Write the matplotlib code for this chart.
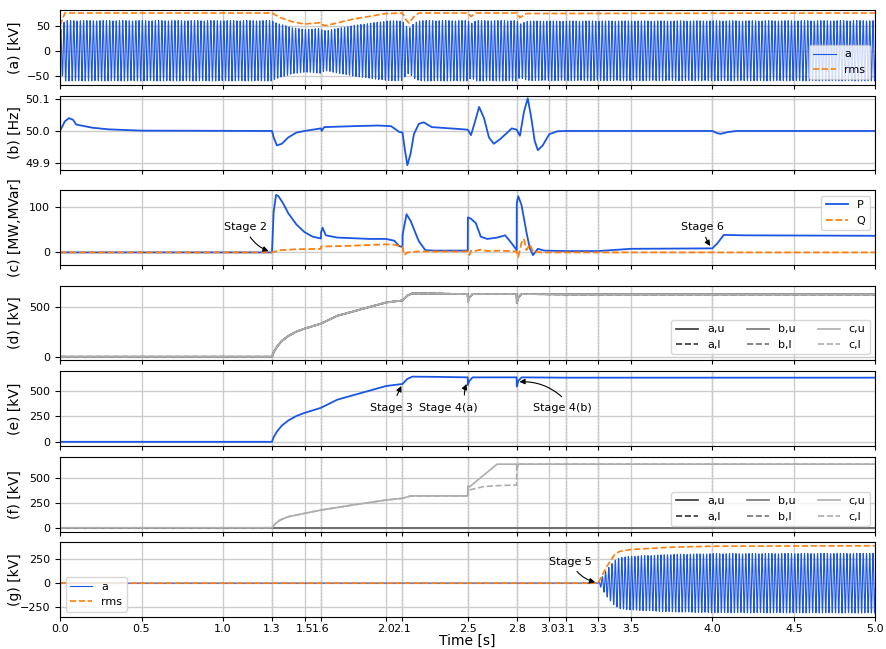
import numpy as np
import matplotlib
matplotlib.use("Agg")
from matplotlib import pyplot as plt

# ---- data ----
# (a) grid voltage rms envelope [kV]
t_rms_a = [0, 0.03, 1.3, 1.35, 1.42, 1.5, 1.6, 1.605, 1.63, 1.8, 2.0, 2.1, 2.12, 2.14, 2.17, 2.2, 2.5, 2.52, 2.55, 2.8, 2.82, 2.86, 5.0]
rms_a = [50, 75, 75, 66, 58, 53, 56, 52, 50, 63, 74, 75, 62, 55, 68, 75, 75, 68, 75, 75, 66, 74, 75]
peak_ratio = 0.8

# (b) frequency [Hz]
t_freq = [0, 0.03, 0.055, 0.08, 0.1, 0.2, 0.3, 0.5, 1.3, 1.31, 1.33, 1.36, 1.4, 1.45, 1.5,
          1.6, 1.605, 1.62, 1.8, 1.95, 2.03, 2.08, 2.1, 2.115, 2.13, 2.15, 2.17, 2.2, 2.23,
          2.28, 2.45, 2.5, 2.52, 2.545, 2.57, 2.6, 2.63, 2.66, 2.7, 2.77, 2.8, 2.82, 2.845,
          2.868, 2.89, 2.91, 2.93, 2.96, 3.0, 3.05, 3.1, 4.0, 4.03, 4.05, 4.1, 4.15, 5.0]
freq = [50.0, 50.03, 50.04, 50.035, 50.02, 50.01, 50.005, 50.001, 50.0, 49.98, 49.955, 49.96, 49.98, 49.995, 50.0,
        50.008, 50.0, 50.012, 50.015, 50.017, 50.015, 49.997, 49.995, 49.94, 49.893, 49.93, 49.99, 50.022, 50.027,
        50.012, 50.006, 50.004, 49.987, 50.03, 50.075, 50.04, 49.98, 49.96, 49.975, 50.008, 50.004, 49.985, 50.06,
        50.102, 50.04, 49.97, 49.94, 49.955, 49.99, 49.999, 50.0, 50.0, 49.993, 49.991, 49.997, 50.0, 50.0]

# (c) active / reactive power
t_p = [0, 1.3, 1.31, 1.325, 1.34, 1.37, 1.4, 1.45, 1.5, 1.55, 1.6, 1.601, 1.61, 1.63, 1.7, 1.9, 2.0,
       2.05, 2.08, 2.1, 2.101, 2.125, 2.15, 2.2, 2.24, 2.3, 2.5, 2.501, 2.52, 2.55, 2.58, 2.62, 2.68,
       2.73, 2.77, 2.8, 2.801, 2.81, 2.83, 2.86, 2.88, 2.9, 2.93, 2.97, 3.1, 3.3, 3.5, 4.0, 4.03,
       4.07, 4.2, 5.0]
p_mw = [0, 0, 90, 128, 125, 108, 87, 62, 45, 35, 31, 45, 55, 38, 33, 30, 30,
        26, 14, 12, 40, 85, 70, 25, 5, 4, 4, 78, 75, 65, 35, 30, 33,
        38, 20, 5, 110, 125, 105, 45, 10, -6, 8, 4, 3, 3, 8, 9, 20,
        39, 38, 37]
t_q = [0, 1.3, 1.35, 1.45, 1.6, 1.601, 1.8, 2.0, 2.05, 2.1, 2.11, 2.13, 2.2, 2.5, 2.51, 2.52, 2.54,
       2.58, 2.62, 2.7, 2.8, 2.81, 2.83, 2.845, 2.86, 2.88, 2.9, 2.95, 5.0]
q_mvar = [0, 0, 5, 7, 8, 13, 15, 18, 17, 12, -6, 0, 2, 2, -6, 4, 3,
          6, 3, 4, 2, -10, 22, 30, 5, 18, 2, 0, 0]

# (d),(e) DC voltage [kV]
t_dc = [0, 1.3, 1.31, 1.33, 1.36, 1.4, 1.45, 1.5, 1.6, 1.7, 1.8, 1.9, 2.0, 2.1, 2.13, 2.16, 2.3,
        2.5, 2.501, 2.51, 2.53, 2.8, 2.801, 2.81, 2.83, 3.1, 5.0]
v_dc = [0, 0, 45, 100, 160, 210, 255, 285, 335, 415, 460, 505, 550, 570, 620, 642, 640,
        635, 560, 600, 635, 635, 545, 600, 635, 632, 632]

# (f) capacitor voltages phase c [kV]
t_cu = [0, 1.3, 1.32, 1.35, 1.4, 1.5, 1.6, 1.8, 2.0, 2.1, 2.15, 2.5, 2.501, 2.51, 2.68, 2.8, 2.801, 2.81, 2.83, 5.0]
v_cu = [0, 0, 40, 78, 111, 145, 178, 230, 279, 296, 320, 320, 420, 410, 640, 640, 580, 640, 640, 640]
t_cl = [0, 1.3, 1.32, 1.35, 1.4, 1.5, 1.6, 1.8, 2.0, 2.1, 2.15, 2.5, 2.501, 2.51, 2.6, 2.7, 2.8, 2.801, 5.0]
v_cl = [0, 0, 40, 78, 111, 145, 178, 230, 279, 296, 320, 320, 400, 380, 415, 425, 430, 640, 640]
t_ab = [0, 5.0]
v_ab = [0, 0]

# (g) converter ac voltage rms envelope [kV]
t_rms_g = [0, 3.3, 3.35, 3.4, 3.43, 3.5, 3.75, 4.0, 5.0]
rms_g = [0, 0, 170, 300, 335, 355, 380, 390, 395]

xticks = [0.0, 0.5, 1.0, 1.3, 1.5, 1.6, 2.0, 2.1, 2.5, 2.8, 3.0, 3.1, 3.3, 3.5, 4.0, 4.5, 5.0]
events = [1.3, 1.6, 2.1, 2.5, 2.8, 3.1, 3.3, 4.0]

blue = '#1a55e3'
orange = '#ff7f0e'
grays = ['0.2', '0.45', '0.68']

plt.rcParams['font.size'] = 8

fig = plt.figure(figsize=(8.87, 6.49), dpi=100)
left, width = 0.0676, 0.9194
rows = [(0.869, 0.1156), (0.738, 0.1145), (0.5917, 0.1156), (0.4453, 0.1145),
        (0.3133, 0.1151), (0.1807, 0.1156), (0.0489, 0.1156)]
axes = []
for i, (b, h) in enumerate(rows):
    ax = fig.add_axes([left, b, width, h], sharex=axes[0] if axes else None)
    axes.append(ax)

t = np.arange(0, 5.0, 0.0011)
carrier = np.sin(2 * np.pi * 50 * t)

# (a)
ax = axes[0]
env_a = np.interp(t, t_rms_a, rms_a) * peak_ratio
ax.plot(t, env_a * carrier, color=blue, lw=0.8, label='a')
ax.plot(t_rms_a, rms_a, color=orange, ls='--', lw=1.2, label='rms')
ax.set_ylim(-68, 81)
ax.set_yticks([-50, 0, 50])
ax.set_ylabel('(a) [kV]', fontsize=10)
ax.legend(loc='lower right')

# (b)
ax = axes[1]
ax.plot(t_freq, freq, color=blue, lw=1.3)
ax.set_ylim(49.878, 50.11)
ax.set_yticks([49.9, 50.0, 50.1])
ax.set_ylabel('(b) [Hz]', fontsize=10)

# (c)
ax = axes[2]
ax.plot(t_p, p_mw, color=blue, lw=1.3, label='P')
ax.plot(t_q, q_mvar, color=orange, ls='--', lw=1.3, label='Q')
ax.set_ylim(-28, 139)
ax.set_yticks([0, 100])
ax.set_ylabel('(c) [MW,MVar]', fontsize=10)
ax.legend(loc='upper right')
ax.annotate('Stage 2', xy=(1.295, 1), xytext=(1.135, 57), ha='center', va='center',
            arrowprops=dict(arrowstyle='-|>', color='k', lw=0.8, connectionstyle='arc3,rad=0.25'))
ax.annotate('Stage 6', xy=(3.995, 9), xytext=(3.94, 57), ha='center', va='center',
            arrowprops=dict(arrowstyle='-|>', color='k', lw=0.8, connectionstyle='arc3,rad=0.1'))

# (d)
ax = axes[3]
for ph, c in zip(['a', 'b', 'c'], grays):
    ax.plot(t_dc, v_dc, color=c, lw=1.2, label=ph + ',u')
    ax.plot(t_dc, v_dc, color=c, lw=1.2, ls='--', label=ph + ',l')
ax.set_ylim(-33, 720)
ax.set_yticks([0, 500])
ax.set_ylabel('(d) [kV]', fontsize=10)
ax.legend(loc='lower right', ncol=3)

# (e)
ax = axes[4]
ax.plot(t_dc, v_dc, color=blue, lw=1.3)
ax.set_ylim(-38, 698)
ax.set_yticks([0, 250, 500])
ax.set_ylabel('(e) [kV]', fontsize=10)
ax.annotate('Stage 3', xy=(2.1, 575), xytext=(2.03, 330), ha='center', va='center',
            arrowprops=dict(arrowstyle='-|>', color='k', lw=0.8, connectionstyle='arc3,rad=0.0',
                            shrinkA=4))
ax.annotate('Stage 4(a)', xy=(2.5, 595), xytext=(2.38, 330), ha='center', va='center',
            arrowprops=dict(arrowstyle='-|>', color='k', lw=0.8, connectionstyle='arc3,rad=-0.2',
                            shrinkA=4, relpos=(0.8, 1.0)))
ax.annotate('Stage 4(b)', xy=(2.8, 590), xytext=(3.08, 330), ha='center', va='center',
            arrowprops=dict(arrowstyle='-|>', color='k', lw=0.8, connectionstyle='arc3,rad=0.25',
                            shrinkA=4, relpos=(0.6, 1.0)))

# (f)
ax = axes[5]
ax.plot(t_ab, v_ab, color=grays[0], lw=1.2, label='a,u')
ax.plot(t_ab, v_ab, color=grays[0], lw=1.2, ls='--', label='a,l')
ax.plot(t_ab, v_ab, color=grays[1], lw=1.2, label='b,u')
ax.plot(t_ab, v_ab, color=grays[1], lw=1.2, ls='--', label='b,l')
ax.plot(t_cu, v_cu, color=grays[2], lw=1.2, label='c,u')
ax.plot(t_cl, v_cl, color=grays[2], lw=1.2, ls='--', label='c,l')
ax.set_ylim(-40, 715)
ax.set_yticks([0, 250, 500])
ax.set_ylabel('(f) [kV]', fontsize=10)
ax.legend(loc='lower right', ncol=3)

# (g)
ax = axes[6]
env_g = np.interp(t, t_rms_g, rms_g) * peak_ratio
ax.plot(t, env_g * carrier, color=blue, lw=0.8, label='a')
ax.plot(t_rms_g, rms_g, color=orange, ls='--', lw=1.2, label='rms')
ax.set_ylim(-360, 432)
ax.set_yticks([-250, 0, 250])
ax.set_ylabel('(g) [kV]', fontsize=10)
ax.legend(loc='lower left')
ax.annotate('Stage 5', xy=(3.298, 3), xytext=(3.13, 228), ha='center', va='center',
            arrowprops=dict(arrowstyle='-|>', color='k', lw=0.8, connectionstyle='arc3,rad=0.25'))
ax.set_xlabel('Time [s]', fontsize=10, labelpad=0)

for i, ax in enumerate(axes):
    ax.set_xlim(0, 5.0)
    ax.set_xticks(xticks)
    ax.tick_params(axis='x', pad=2, length=3)
    ax.grid(True, color='0.8', lw=1.0)
    for ev in events:
        ax.axvline(ev, color='0.35', ls=':', lw=0.9, zorder=1.5)
    ax.yaxis.set_label_coords(-0.047, 0.5)
    if i < len(axes) - 1:
        ax.tick_params(labelbottom=False)

fig.savefig('out.png', dpi=100)
